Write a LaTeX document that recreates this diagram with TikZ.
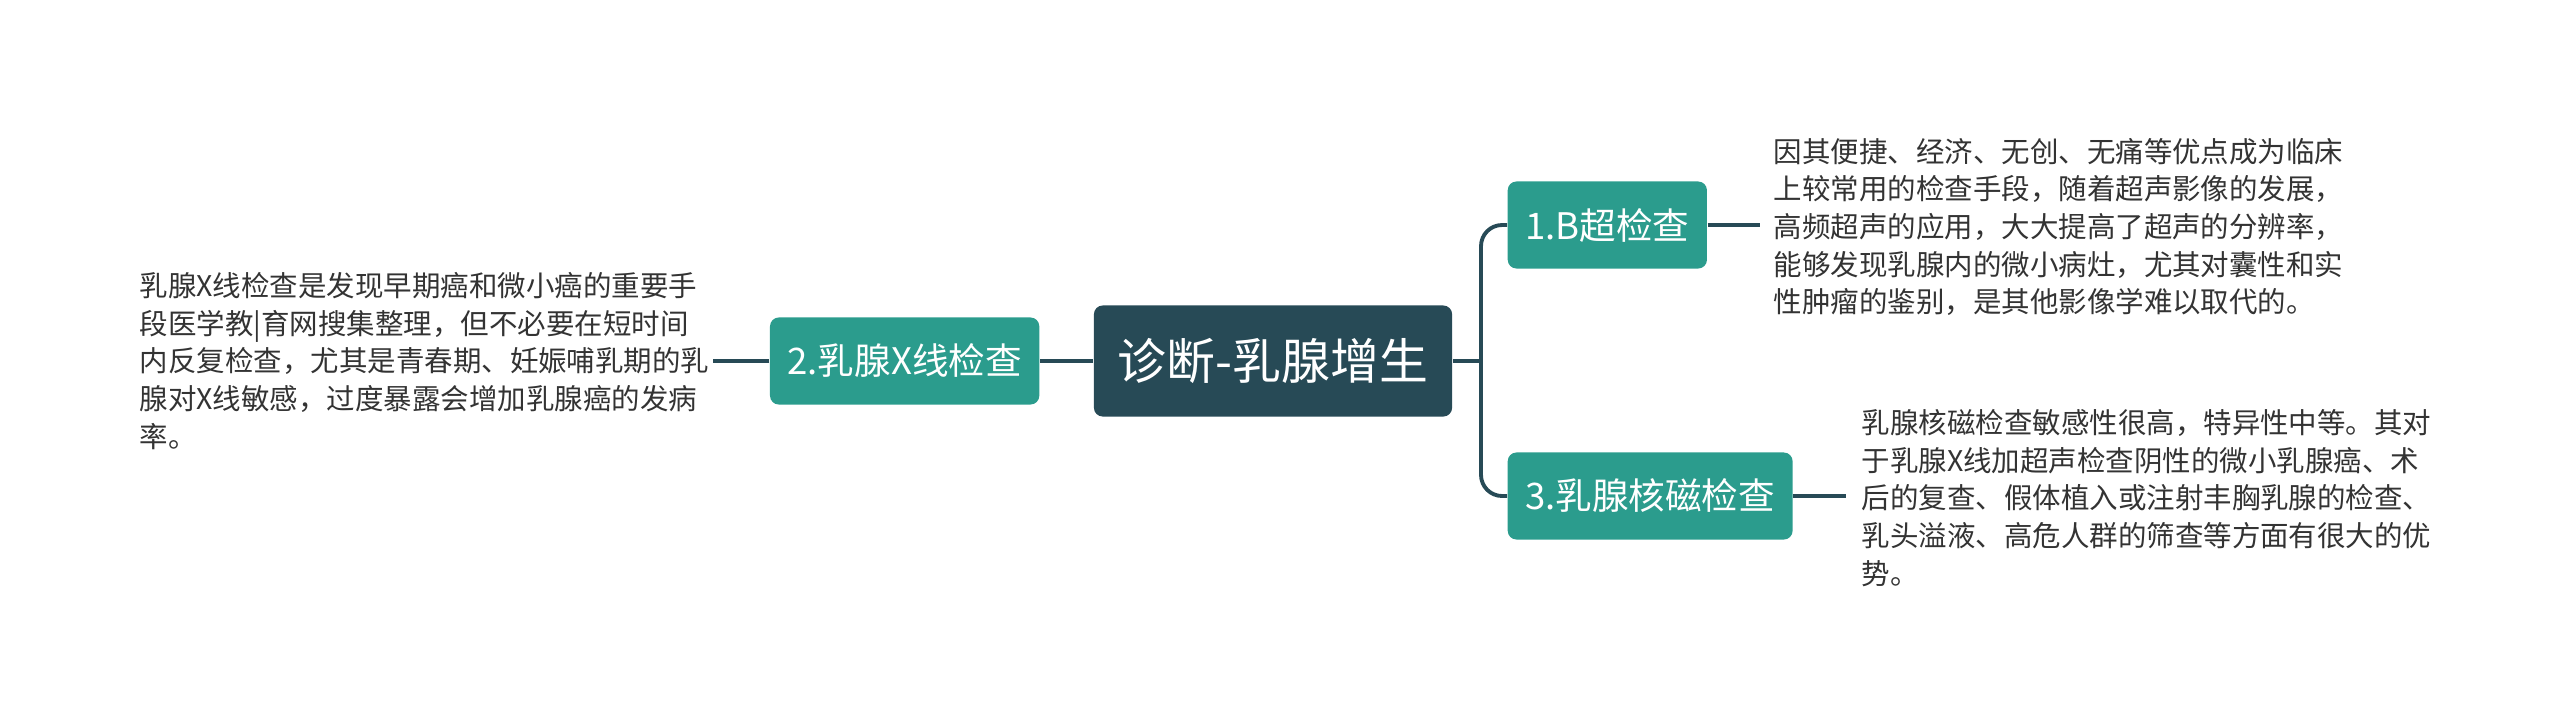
\documentclass[tikz,border=0pt]{standalone}
\usepackage{fontspec}
\setmainfont{Noto Sans CJK SC}
\usepackage{xcolor}
\usepackage{tikz}
\usetikzlibrary{positioning}
\definecolor{rootslate}{HTML}{274A56}
\definecolor{branchteal}{HTML}{2B9C8D}
\definecolor{ink}{HTML}{333333}

\begin{document}
\begin{tikzpicture}[
  x=0.01cm, y=-0.01cm,
  root/.style={fill=rootslate, rounded corners=2.5pt, text=white, minimum width=3.58cm, minimum height=1.11cm, inner sep=0pt, font=\fontsize{13.9}{16}\selectfont},
  branch/.style={fill=branchteal, rounded corners=2.5pt, text=white, minimum height=0.87cm, inner xsep=0.175cm, inner ysep=0pt, font=\fontsize{10.4}{12}\selectfont},
  note/.style={align=left, inner sep=0pt, text=ink, font=\fontsize{8.1}{10.7}\selectfont},
  link/.style={draw=rootslate, line width=1.1pt}
]
\useasboundingbox (0,0) rectangle (2560,724);

\node[root] (root) at (1273,361) {诊断-乳腺增生};
\node[branch, anchor=east] (b2) at (1040,361) {2.乳腺X线检查};
\node[branch, anchor=west] (b1) at (1507,225) {1.B超检查};
\node[branch, anchor=west] (b3) at (1507,496) {3.乳腺核磁检查};
\coordinate (fork) at (1481,361);

% detail texts
\node[note, anchor=west] (t2) at (139,361) {乳腺X线检查是发现早期癌和微小癌的重要手\\段医学教\textbar{}育网搜集整理，但不必要在短时间\\内反复检查，尤其是青春期、妊娠哺乳期的乳\\腺对X线敏感，过度暴露会增加乳腺癌的发病\\率。};
\node[note, anchor=west] (t1) at (1773,227) {因其便捷、经济、无创、无痛等优点成为临床\\上较常用的检查手段，随着超声影像的发展，\\高频超声的应用，大大提高了超声的分辨率，\\能够发现乳腺内的微小病灶，尤其对囊性和实\\性肿瘤的鉴别，是其他影像学难以取代的。};
\node[note, anchor=west] (t3) at (1861,498) {乳腺核磁检查敏感性很高，特异性中等。其对\\于乳腺X线加超声检查阴性的微小乳腺癌、术\\后的复查、假体植入或注射丰胸乳腺的检查、\\乳头溢液、高危人群的筛查等方面有很大的优\\势。};

\draw[link] (root.west) -- (b2.east);
\draw[link] (root.east) -- (fork);
\draw[link, rounded corners=6pt] (fork) |- (b1.west);
\draw[link, rounded corners=6pt] (fork) |- (b3.west);
\draw[link, shorten >=0.03cm] (b2.west) -- (t2.east |- b2.west);
\draw[link, shorten >=0.13cm] (b1.east) -- (t1.west |- b1.east);
\draw[link, shorten >=0.15cm] (b3.east) -- (t3.west |- b3.east);
\end{tikzpicture}
\end{document}
